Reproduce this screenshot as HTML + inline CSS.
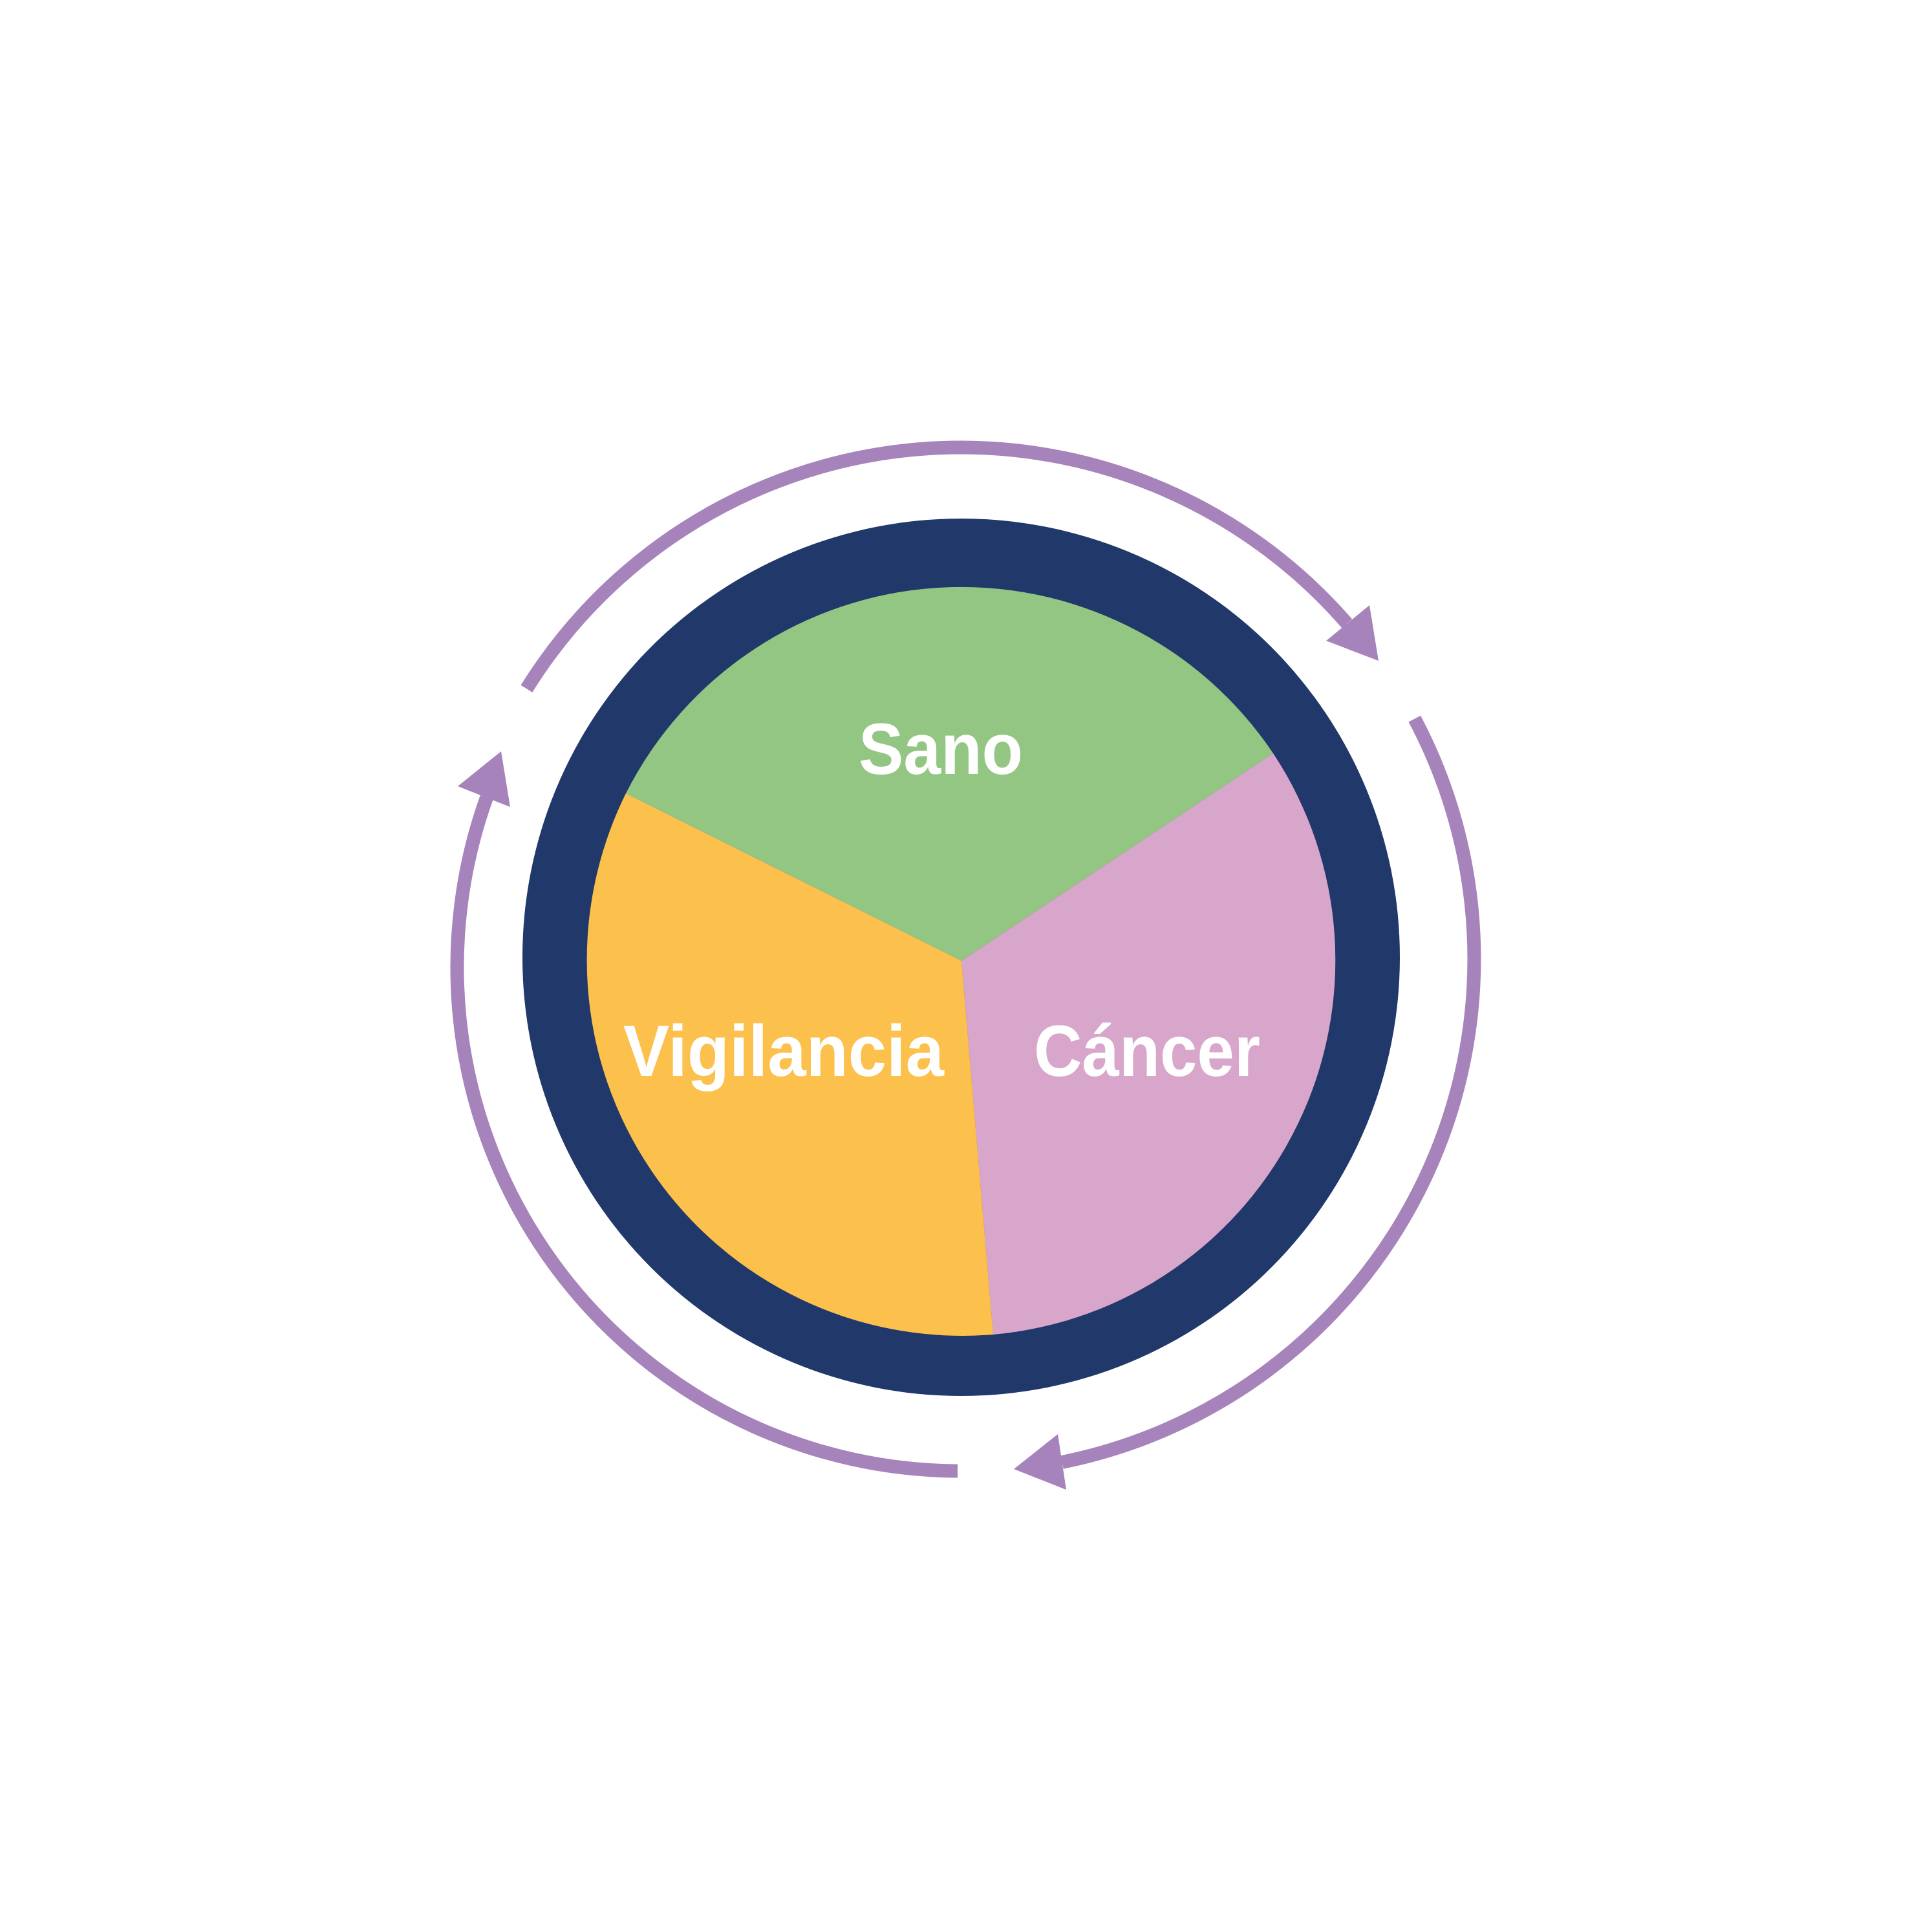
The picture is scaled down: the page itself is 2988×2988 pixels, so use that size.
<!DOCTYPE html>
<html>
<head>
<meta charset="utf-8">
<style>
  html, body { margin: 0; padding: 0; background: #ffffff; }
  svg { display: block; }
  text { font-family: "Liberation Sans", "DejaVu Sans", sans-serif; font-weight: bold; fill: #ffffff; }
</style>
</head>
<body>
<svg width="2988" height="2988" viewBox="0 0 2988 2988" xmlns="http://www.w3.org/2000/svg">
  <rect x="0" y="0" width="2988" height="2988" fill="#ffffff"/>

  <!-- navy ring -->
  <circle cx="1486.5" cy="1480.5" r="678.5" fill="#21386b"/>

  <!-- pie wedges -->
  <path d="M1487,1486 L968,1227 A581,581 0 0,1 1969,1165 Z" fill="#94c683"/>
  <path d="M1487,1486 L1969,1165 A581,581 0 0,1 1536,2064 Z" fill="#d9a6cb"/>
  <path d="M1487,1486 L1536,2064 A581,581 0 0,1 968,1227 Z" fill="#fcc04c"/>

  <!-- labels -->
  <text x="1328" y="1197" font-size="112" textLength="254" lengthAdjust="spacingAndGlyphs">Sano</text>
  <text x="964" y="1664" font-size="112" textLength="496" lengthAdjust="spacingAndGlyphs">Vigilancia</text>
  <text x="1599" y="1664" font-size="112" textLength="350" lengthAdjust="spacingAndGlyphs">Cáncer</text>

  <!-- cycle arrows -->
  <g fill="none" stroke="#a783bb" stroke-width="21" stroke-linecap="butt">
    <path d="M814.4,1065.2 A791,791 0 0,1 2083.3,964.4"/>
    <path d="M2187.8,1111.7 A794,794 0 0,1 1642.6,2261.4"/>
    <path d="M1481,2275 A779,779 0 0,1 752.6,1233.4"/>
  </g>
  <g fill="#a783bb">
    <polygon points="2118,936 2051,991 2132,1022"/>
    <polygon points="775,1162 708,1216 789,1248"/>
    <polygon points="1568,2272 1636,2218 1649,2304"/>
  </g>
</svg>
</body>
</html>
